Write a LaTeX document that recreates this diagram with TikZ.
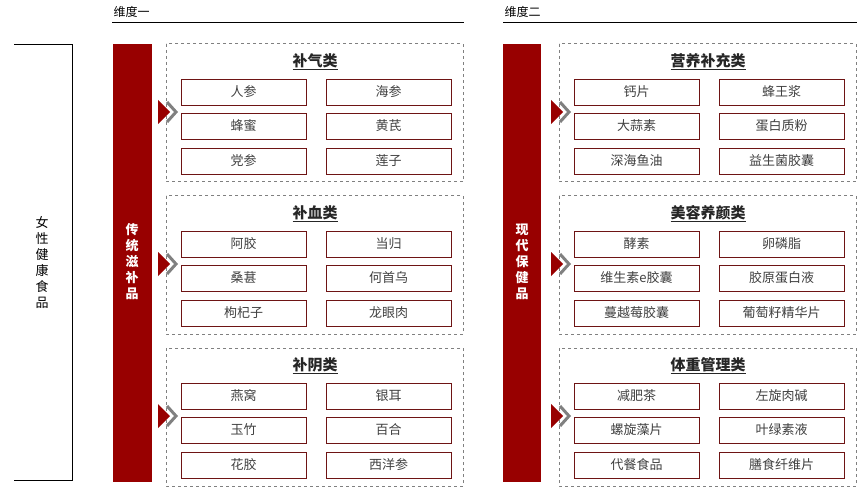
\documentclass[tikz,border=0pt]{standalone}
\usepackage{fontspec}
\setmainfont{Noto Sans CJK SC}
\definecolor{darkred}{RGB}{152,0,0}
\definecolor{itemred}{RGB}{110,20,20}
\begin{document}
\begin{tikzpicture}[x=1pt,y=-1pt,
    item/.style={draw=itemred,line width=0.8pt,minimum width=125pt,minimum height=26pt,
      inner sep=0pt,font=\fontsize{13}{13}\selectfont,text=black!75},
    group/.style={draw=gray,dashed,line width=1pt},
    grouptitle/.style={font=\fontsize{15}{15}\selectfont\bfseries,text=black!85},
    dimlabel/.style={font=\fontsize{12}{12}\selectfont,anchor=west},
    vtext/.style={align=center,font=\fontsize{13}{16}\selectfont},
  ]
  \useasboundingbox (0,0) rectangle (868,492);

  % left bracket
  \draw[line width=0.8pt] (14,44) -- (72,44) -- (72,480) -- (14,480);
  \node[vtext] (root) at (42,262) {女\\性\\健\\康\\食\\品};

  % dimension headings
  \node[dimlabel] (dimA) at (110,12) {维度一};
  \draw[line width=0.8pt] (112,22) -- (464,22);
  \node[dimlabel] (dimB) at (501,12) {维度二};
  \draw[line width=0.8pt] (503,22) -- (857,22);

  % red bars
  \fill[darkred] (113,44) rectangle (152,482);
  \node[vtext,text=white,font=\fontsize{13}{16}\selectfont\bfseries] (barA) at (132,262) {传\\统\\滋\\补\\品};
  \fill[darkred] (503,44) rectangle (541,482);
  \node[vtext,text=white,font=\fontsize{13}{16}\selectfont\bfseries] (barB) at (522,262) {现\\代\\保\\健\\品};

  % groups: x offset / top / title / six items
  \foreach \dx/\top/\name/\a/\b/\c/\d/\e/\f/\id in {
      0/44/补气类/人参/海参/蜂蜜/黄芪/党参/莲子/qi,
      0/196/补血类/阿胶/当归/桑葚/何首乌/枸杞子/龙眼肉/xue,
      0/348/补阴类/燕窝/银耳/玉竹/百合/花胶/西洋参/yin,
      393/44/营养补充类/钙片/蜂王浆/大蒜素/蛋白质粉/深海鱼油/益生菌胶囊/ying,
      393/196/美容养颜类/酵素/卵磷脂/维生素e胶囊/胶原蛋白液/蔓越莓胶囊/葡萄籽精华片/mei,
      393/348/体重管理类/减肥茶/左旋肉碱/螺旋藻片/叶绿素液/代餐食品/膳食纤维片/ti} {
    \draw[group] (166+\dx,\top) rectangle (463+\dx,\top+138);
    \node[grouptitle] (\id-t) at (315+\dx,\top+18) {\underline{\name}};
    \node[item] (\id-1) at (243.5+\dx,\top+48) {\a};
    \node[item] (\id-2) at (388.5+\dx,\top+48) {\b};
    \node[item] (\id-3) at (243.5+\dx,\top+82) {\c};
    \node[item] (\id-4) at (388.5+\dx,\top+82) {\d};
    \node[item] (\id-5) at (243.5+\dx,\top+117) {\e};
    \node[item] (\id-6) at (388.5+\dx,\top+117) {\f};
    % chevron
    \fill[darkred] (158+\dx,\top+56) -- (170+\dx,\top+68) -- (158+\dx,\top+80) -- cycle;
    \draw[gray,line width=3pt] (167+\dx,\top+58) -- (176+\dx,\top+68) -- (167+\dx,\top+78);
  }
\end{tikzpicture}
\end{document}
